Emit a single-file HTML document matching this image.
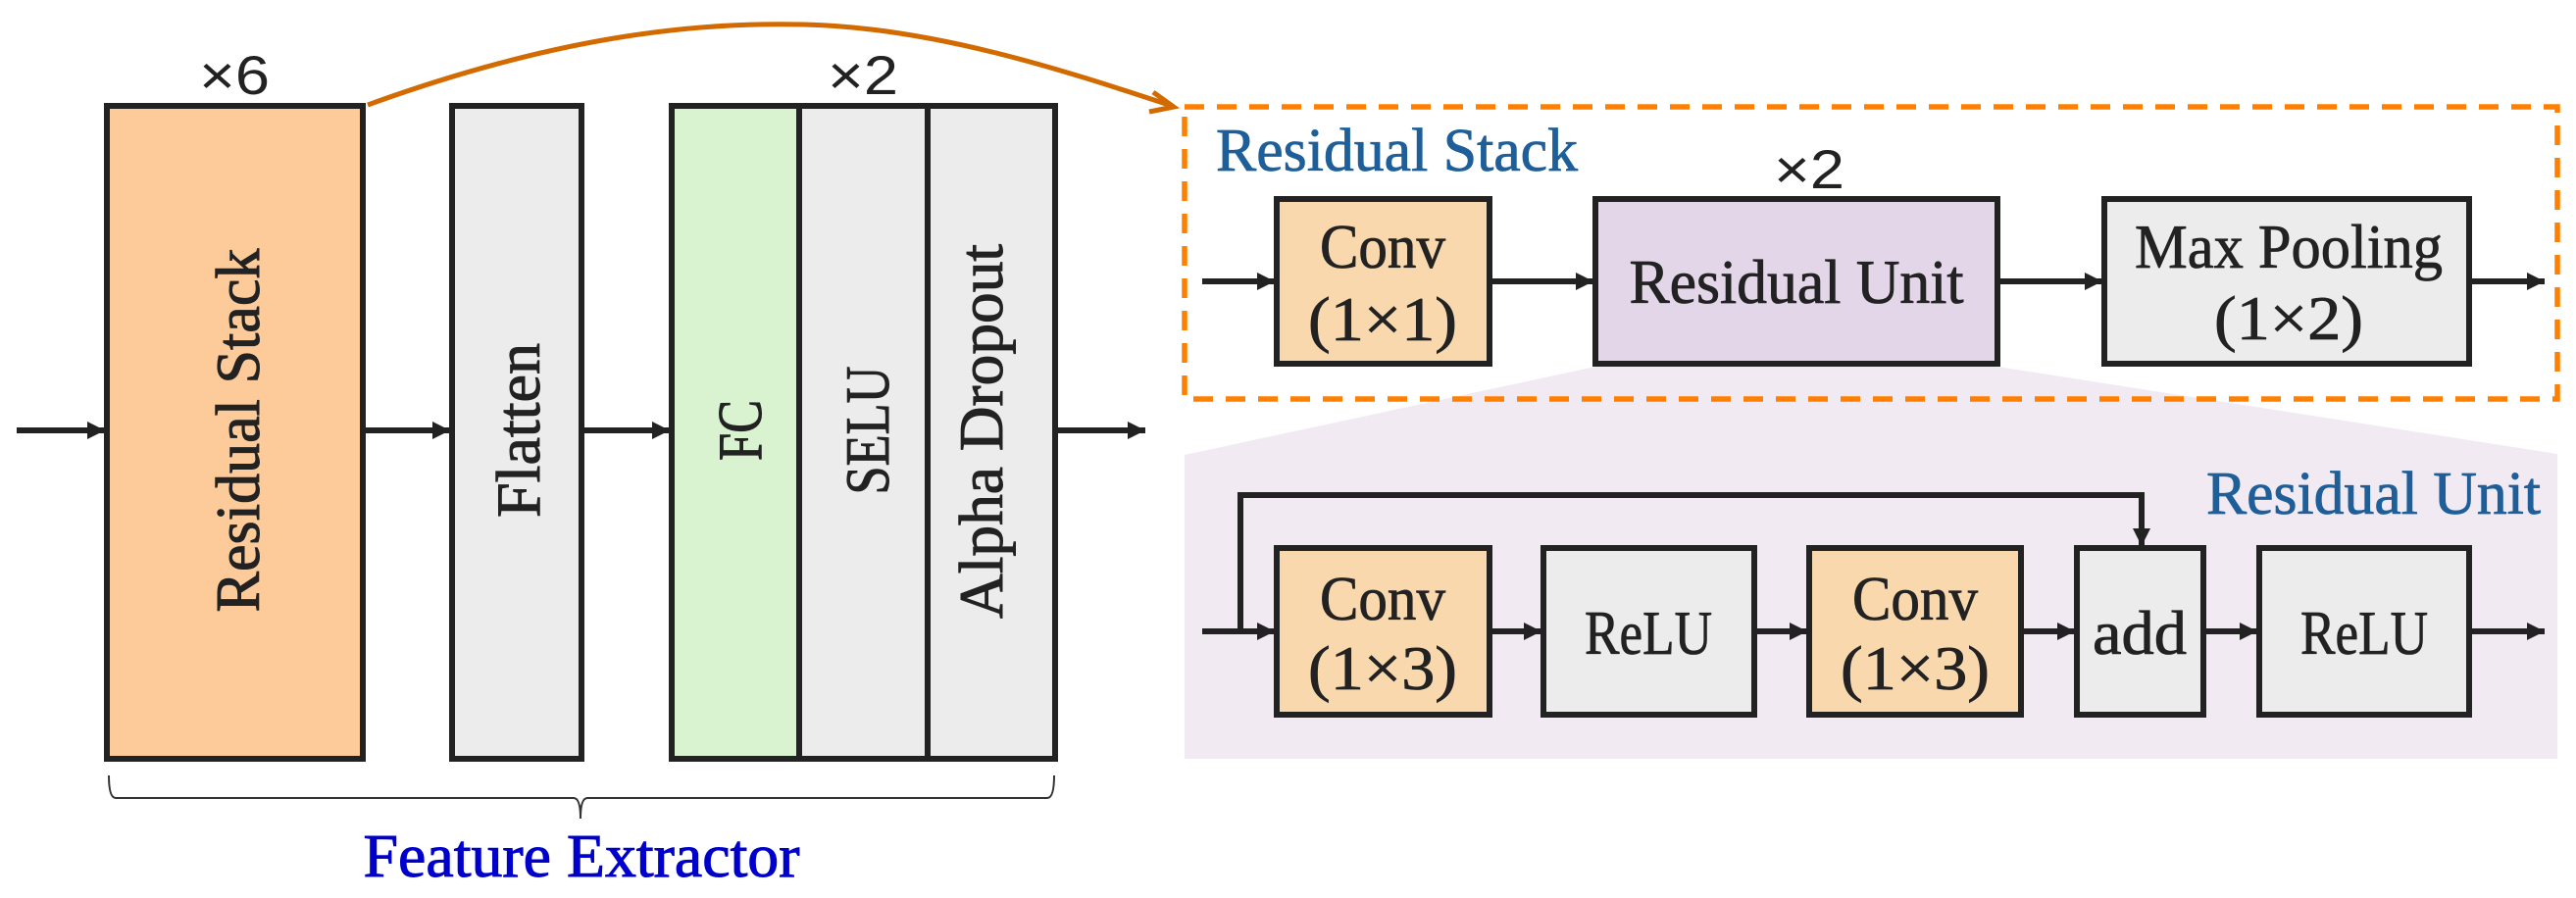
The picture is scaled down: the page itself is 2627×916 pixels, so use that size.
<!DOCTYPE html>
<html><head><meta charset="utf-8"><style>html,body{margin:0;padding:0;background:#fff}svg{display:block}</style></head>
<body>
<svg width="2627" height="916" viewBox="0 0 2627 916" xmlns="http://www.w3.org/2000/svg" font-family="'Liberation Serif', serif">
<defs>
<marker id="ah" markerWidth="20" markerHeight="20" refX="18" refY="9" orient="auto" markerUnits="userSpaceOnUse">
<path d="M0,0 L18,9 L0,18 z" fill="#222"/>
</marker>
</defs>
<path d="M1627,374 L2037,374 L2608,463 L2608,774 L1208,774 L1208,464 Z" fill="#f1eaf3"/>
<rect x="1208" y="109" width="1400" height="298" fill="none" stroke="#ff8000" stroke-width="5.5" stroke-dasharray="20,13"/>

<g stroke="#222" stroke-width="6">
<rect x="109" y="108" width="261" height="666" fill="#fdcb9a"/>
<rect x="461" y="108" width="132" height="666" fill="#ececec"/>
<rect x="685" y="108" width="130" height="666" fill="#d9f2d0"/>
<rect x="815" y="108" width="131" height="666" fill="#ececec"/>
<rect x="946" y="108" width="130" height="666" fill="#ececec"/>
<line x1="17" y1="439" x2="107" y2="439" marker-end="url(#ah)"/>
<line x1="372" y1="439" x2="459" y2="439" marker-end="url(#ah)"/>
<line x1="595" y1="439" x2="683" y2="439" marker-end="url(#ah)"/>
<line x1="1078" y1="439" x2="1168" y2="439" marker-end="url(#ah)"/>

<rect x="1302" y="203" width="217" height="168" fill="#f9d8ae"/>
<rect x="1627" y="203" width="410" height="168" fill="#e2d6e8"/>
<rect x="2146" y="203" width="372" height="168" fill="#ececec"/>
<line x1="1226" y1="287" x2="1300" y2="287" marker-end="url(#ah)"/>
<line x1="1521" y1="287" x2="1625" y2="287" marker-end="url(#ah)"/>
<line x1="2039" y1="287" x2="2144" y2="287" marker-end="url(#ah)"/>
<line x1="2520" y1="287" x2="2595" y2="287" marker-end="url(#ah)"/>

<rect x="1302" y="559" width="217" height="170" fill="#f9d8ae"/>
<rect x="1574" y="559" width="215" height="170" fill="#ececec"/>
<rect x="1845" y="559" width="216" height="170" fill="#f9d8ae"/>
<rect x="2118" y="559" width="129" height="170" fill="#ececec"/>
<rect x="2304" y="559" width="214" height="170" fill="#ececec"/>
<line x1="1226" y1="644" x2="1300" y2="644" marker-end="url(#ah)"/>
<line x1="1521" y1="644" x2="1572" y2="644" marker-end="url(#ah)"/>
<line x1="1791" y1="644" x2="1843" y2="644" marker-end="url(#ah)"/>
<line x1="2063" y1="644" x2="2116" y2="644" marker-end="url(#ah)"/>
<line x1="2249" y1="644" x2="2302" y2="644" marker-end="url(#ah)"/>
<line x1="2520" y1="644" x2="2595" y2="644" marker-end="url(#ah)"/>
<polyline points="1265,644 1265,505 2184,505 2184,557" fill="none" marker-end="url(#ah)"/>
</g>

<path d="M375,107 C560,40 700,22 820,25 C950,28 1080,70 1195,108" fill="none" stroke="#d26a00" stroke-width="5"/>
<path d="M1176,94 L1197,109 L1172,114" fill="none" stroke="#d26a00" stroke-width="5"/>

<path d="M111,791 Q111,814 118,814 L585,814 Q592,814 592,835 Q592,814 599,814 L1068,814 Q1075,814 1075,791" fill="none" stroke="#333" stroke-width="2"/>

<g font-family="'Liberation Sans', sans-serif" font-size="56" fill="#222" text-anchor="middle">
<text x="239" y="96" textLength="72" lengthAdjust="spacingAndGlyphs">×6</text>
<text x="880" y="96" textLength="72" lengthAdjust="spacingAndGlyphs">×2</text>
<text x="1845" y="192" textLength="72" lengthAdjust="spacingAndGlyphs">×2</text>
</g>

<g font-size="64" fill="#222" stroke="#222" stroke-width="1" text-anchor="middle">
<text transform="translate(264,439) rotate(-90)" textLength="371" lengthAdjust="spacingAndGlyphs">Residual Stack</text>
<text transform="translate(550,439) rotate(-90)" textLength="178" lengthAdjust="spacingAndGlyphs">Flatten</text>
<text transform="translate(776,439) rotate(-90)" textLength="62" lengthAdjust="spacingAndGlyphs">FC</text>
<text transform="translate(906,439) rotate(-90)" textLength="131" lengthAdjust="spacingAndGlyphs">SELU</text>
<text transform="translate(1022,440) rotate(-90)" textLength="382" lengthAdjust="spacingAndGlyphs">Alpha Dropout</text>
</g>

<text x="593" y="894" font-size="62" fill="#0000cc" stroke="#0000cc" stroke-width="1" text-anchor="middle" textLength="445" lengthAdjust="spacingAndGlyphs">Feature Extractor</text>
<text x="1240" y="174" font-size="62" fill="#1f5f99" stroke="#1f5f99" stroke-width="0.8" textLength="369" lengthAdjust="spacingAndGlyphs">Residual Stack</text>
<text x="2250" y="524" font-size="62" fill="#1f5f99" stroke="#1f5f99" stroke-width="0.8" textLength="341" lengthAdjust="spacingAndGlyphs">Residual Unit</text>

<g font-size="64" fill="#222" stroke="#222" stroke-width="0.8" text-anchor="middle">
<text x="1410" y="273" textLength="128" lengthAdjust="spacingAndGlyphs">Conv</text>
<text x="1410" y="347" textLength="152" lengthAdjust="spacingAndGlyphs">(1×1)</text>
<text x="1832" y="309" textLength="341" lengthAdjust="spacingAndGlyphs">Residual Unit</text>
<text x="2334" y="273" textLength="314" lengthAdjust="spacingAndGlyphs">Max Pooling</text>
<text x="2334" y="346" textLength="152" lengthAdjust="spacingAndGlyphs">(1×2)</text>
<text x="1410" y="632" textLength="128" lengthAdjust="spacingAndGlyphs">Conv</text>
<text x="1410" y="703" textLength="152" lengthAdjust="spacingAndGlyphs">(1×3)</text>
<text x="1681" y="667" textLength="130" lengthAdjust="spacingAndGlyphs">ReLU</text>
<text x="1953" y="632" textLength="128" lengthAdjust="spacingAndGlyphs">Conv</text>
<text x="1953" y="703" textLength="152" lengthAdjust="spacingAndGlyphs">(1×3)</text>
<text x="2182" y="667" textLength="96" lengthAdjust="spacingAndGlyphs">add</text>
<text x="2411" y="667" textLength="130" lengthAdjust="spacingAndGlyphs">ReLU</text>
</g>
</svg>
</body></html>
